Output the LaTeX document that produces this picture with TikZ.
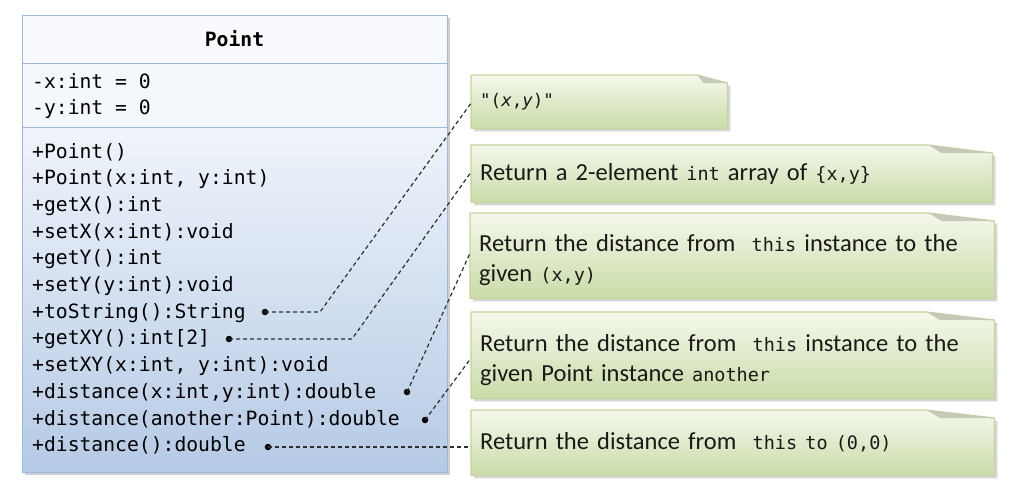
\documentclass[tikz,border=0pt]{standalone}
\usepackage{fontspec}
\setmainfont{Carlito}
\newfontfamily\umlmono{DejaVu Sans Mono}
\usetikzlibrary{backgrounds}
\definecolor{umlborder}{HTML}{9DB8DB}
\definecolor{headfill}{HTML}{F8FAFD}
\definecolor{attrfill}{HTML}{F4F7FB}
\definecolor{mtop}{HTML}{F0F4FA}
\definecolor{mbot}{HTML}{B5CAE6}
\definecolor{nborder}{HTML}{C3D69B}
\definecolor{ntop}{HTML}{F4F8EC}
\definecolor{nbot}{HTML}{CADCA8}
\definecolor{foldc}{HTML}{C4C9BA}
\definecolor{conncol}{HTML}{2E2E2E}
\definecolor{shadowc}{HTML}{C4C4C4}
\newcommand\nm[1]{{\umlmono\fontsize{18.5}{30}\selectfont #1}}
\newcommand\nmq[1]{{\umlmono\fontsize{17.5}{30}\selectfont #1}}
% #1 node name, #2 fold width, #3 vertical offset of the shape above the node box
\newcommand\drawnote[3]{%
  \fill[shadowc,opacity=.7] ([xshift=3pt,yshift=-3pt+#3]#1.north west) -- ([xshift=3pt-#2,yshift=-3pt+#3]#1.north east) -- ([xshift=3pt,yshift=-11pt+#3]#1.north east) -- ([xshift=3pt,yshift=-3pt+#3]#1.south east) -- ([xshift=3pt,yshift=-3pt+#3]#1.south west) -- cycle;
  \shade[top color=ntop,bottom color=nbot] ([yshift=#3]#1.north west) -- ([xshift=-#2,yshift=#3]#1.north east) -- ([yshift=-8pt+#3]#1.north east) -- ([yshift=#3]#1.south east) -- ([yshift=#3]#1.south west) -- cycle;
  \draw[nborder,line width=1.2pt,line join=round] ([yshift=#3]#1.north west) -- ([xshift=-#2,yshift=#3]#1.north east) -- ([yshift=-8pt+#3]#1.north east) -- ([yshift=#3]#1.south east) -- ([yshift=#3]#1.south west) -- cycle;
  \fill[foldc] ([xshift=-#2,yshift=#3]#1.north east) -- ([xshift=-#2+0.2*#2,yshift=-8pt+#3]#1.north east) -- ([yshift=-8pt+#3]#1.north east) -- cycle;
}
\tikzset{
  mline/.style={font=\umlmono\fontsize{19.7}{24}\selectfont, inner sep=0pt, anchor=base west},
  title/.style={font=\umlmono\bfseries\fontsize{19.7}{24}\selectfont, inner sep=0pt, anchor=base},
  compart/.style={draw=umlborder, line width=1.2pt, minimum width=425pt, anchor=north west, inner sep=0pt},
  note/.style={font=\fontsize{24.5}{30}\selectfont, anchor=north west, inner xsep=9pt, inner ysep=0pt, align=left, text=black!90},
  dot/.style={circle, fill=black, inner sep=0pt, minimum size=6.5pt},
  conn/.style={conncol, line width=1.2pt, dash pattern=on 4pt off 3pt}
}
\begin{document}
\begin{tikzpicture}[x=1pt,y=-1pt]
\useasboundingbox (0,0) rectangle (1035,487);
% class box
\fill[shadowc,opacity=.8] (25,18) rectangle (450,475);
\node[compart, fill=headfill, minimum height=48pt] (hdr) at (22,15) {};
\node[compart, fill=attrfill, minimum height=64pt] (attr) at (22,63) {};
\node[compart, top color=mtop, bottom color=mbot, minimum height=345pt] (meth) at (22,127) {};
\node[title] (cname) at (234.5,46) {Point};
\node[mline] (a1) at (32,88) {-x:int = 0};
\node[mline] (a2) at (32,114) {-y:int = 0};
\node[mline] (m1) at (32,158) {+Point()};
\node[mline] (m2) at (32,184.7) {+Point(x:int, y:int)};
\node[mline] (m3) at (32,211.4) {+getX():int};
\node[mline] (m4) at (32,238.1) {+setX(x:int):void};
\node[mline] (m5) at (32,264.8) {+getY():int};
\node[mline] (m6) at (32,291.5) {+setY(y:int):void};
\node[mline] (m7) at (32,318.2) {+toString():String};
\node[mline] (m8) at (32,344.9) {+getXY():int[2]};
\node[mline] (m9) at (32,371.6) {+setXY(x:int, y:int):void};
\node[mline] (m10) at (32,398.3) {+distance(x:int,y:int):double};
\node[mline] (m11) at (32,425) {+distance(another:Point):double};
\node[mline] (m12) at (32,451.7) {+distance():double};
% notes
\node[note, minimum width=256pt, minimum height=53pt, text width=238pt] (n1) at (471,75)
  {\nmq{"(\textit{x},\textit{y})"}};
\node[note, minimum width=521pt, minimum height=57pt, text width=503pt] (n2) at (471,145)
  {Return a 2-element \nm{int} array of \nm{\{x,y\}}};
\node[note, minimum width=524pt, minimum height=85pt, text width=506pt] (n3) at (470,217.5)
  {Return the distance from \nm{\ this} instance to the\\given \nm{(x,y)}};
\node[note, minimum width=523pt, minimum height=86pt, text width=505pt] (n4) at (471,316.5)
  {Return the distance from \nm{\ this} instance to the\\given Point instance \nm{another}};
\node[note, minimum width=523pt, minimum height=65pt, text width=505pt] (n5) at (471,410)
  {Return the distance from \nm{\ this to (0,0)}};
\begin{scope}[on background layer]
  \drawnote{n1}{30pt}{0pt}
  \drawnote{n2}{64pt}{0pt}
  \drawnote{n3}{66pt}{4.5pt}
  \drawnote{n4}{68pt}{4.5pt}
  \drawnote{n5}{68pt}{0pt}
\end{scope}
% dots
\node[dot] (d1) at (265,312) {};
\node[dot] (d2) at (229,339) {};
\node[dot] (d3) at (407,392) {};
\node[dot] (d4) at (425,420) {};
\node[dot] (d5) at (268,447) {};
% connectors
\draw[conn] (d1.center) -- ++(55,0) -- ([yshift=-1.5pt]n1.west);
\draw[conn] (d2.center) -- ++(123,0) -- ([yshift=1.5pt]n2.west);
\draw[conn] (d3.center) -- ([yshift=7pt]n3.west);
\draw[conn] (d4.center) -- ([yshift=1.5pt]n4.west);
\draw[conn] (d5.center) -- (d5.center -| n5.west);
\end{tikzpicture}
\end{document}
